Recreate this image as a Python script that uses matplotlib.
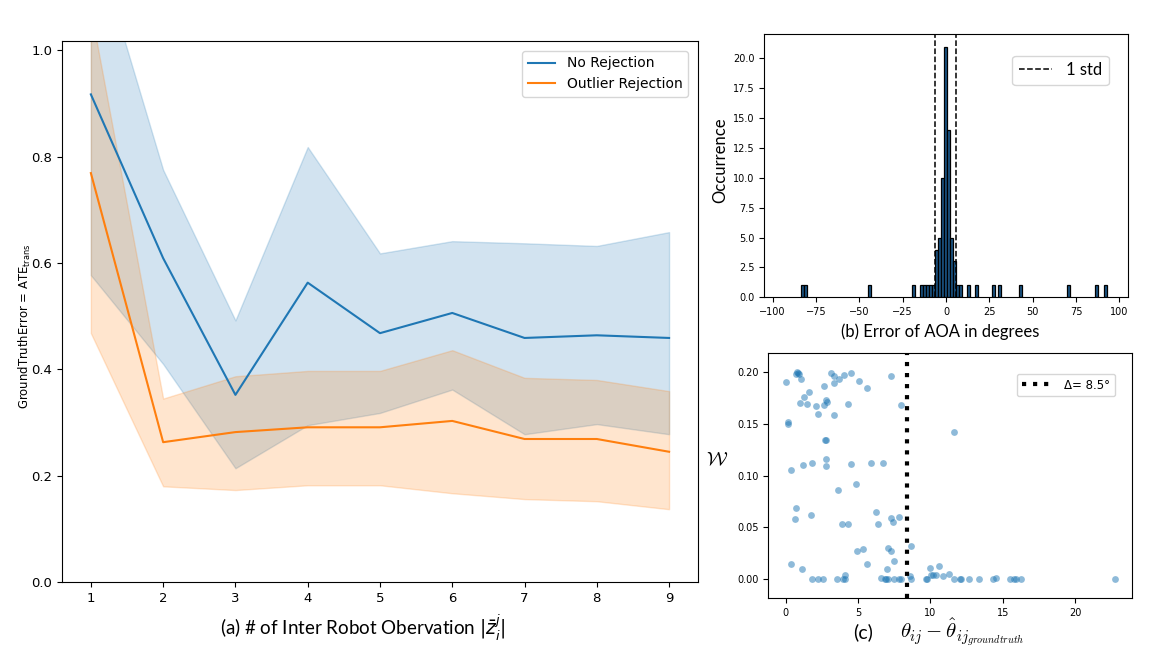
import matplotlib.pyplot as plt

# (a) trajectory error vs number of inter robot observations
n_obs = [1, 2, 3, 4, 5, 6, 7, 8, 9]
no_rej_mean = [0.917, 0.609, 0.352, 0.563, 0.468, 0.506, 0.459, 0.464, 0.459]
no_rej_low = [0.577, 0.410, 0.214, 0.295, 0.318, 0.362, 0.278, 0.297, 0.278]
no_rej_high = [1.230, 0.775, 0.492, 0.818, 0.618, 0.641, 0.637, 0.632, 0.658]
rej_mean = [0.769, 0.263, 0.282, 0.291, 0.291, 0.303, 0.269, 0.269, 0.245]
rej_low = [0.468, 0.180, 0.173, 0.182, 0.182, 0.167, 0.156, 0.152, 0.137]
rej_high = [1.075, 0.345, 0.387, 0.397, 0.397, 0.436, 0.384, 0.380, 0.359]

# (b) histogram of AOA error (bin centres in degrees, counts)
bin_centers = [-82.9, -80.8, -44.4, -18.6, -14.4, -12.65, -10.9, -9.15, -7.4,
               -5.65, -3.9, -2.15, -0.4, 1.35, 3.1, 4.85, 6.6, 8.35,
               12.7, 17.5, 27.5, 30.8, 42.7, 70.6, 86.6, 91.8]
bin_counts = [1, 1, 1, 1, 1, 1, 1, 1, 1,
              4, 5, 10, 21, 14, 5, 3, 1, 1,
              1, 1, 1, 1, 1, 1, 1, 1]
bin_width = 1.75
std_lines = [-6.3, 5.8]

# (c) weight vs angle error
err_x = [0.0, 0.76, 0.83, 0.69, 0.92, 1.06, 0.99, 1.27, 1.61, 1.50,
         0.14, 0.18, 2.12, 2.21, 2.67, 2.65, 2.76, 2.83, 3.11, 3.34,
         3.32, 3.71, 4.06, 4.49, 3.36, 4.29, 5.09, 5.65, 7.28, 7.95,
         2.72, 2.79, 2.76, 2.81, 0.37, 1.20, 1.80, 4.54, 5.90, 6.71,
         4.88, 3.62, 0.69, 0.65, 1.77, 3.87, 4.33, 6.24, 6.36, 7.30,
         7.40, 7.86, 4.93, 5.35, 7.10, 7.28, 7.51, 7.00, 0.39, 1.15,
         5.60, 4.08, 8.66, 8.62, 9.98, 10.58, 11.29, 11.61, 10.07, 10.21,
         10.37, 10.85, 6.59, 14.54,
         1.82, 2.24, 2.60, 3.55, 3.94, 4.12, 6.87, 6.94, 7.05, 7.47,
         7.81, 7.97, 8.64, 9.72, 9.79, 11.61, 12.07, 12.14, 12.63, 13.34,
         14.29, 15.46, 15.76, 15.92, 16.24, 22.72]
weight = [0.191, 0.200, 0.199, 0.198, 0.198, 0.194, 0.170, 0.176, 0.181, 0.169,
          0.150, 0.152, 0.167, 0.160, 0.187, 0.168, 0.173, 0.171, 0.199, 0.196,
          0.190, 0.194, 0.197, 0.199, 0.159, 0.169, 0.192, 0.185, 0.196, 0.168,
          0.134, 0.134, 0.116, 0.109, 0.105, 0.110, 0.112, 0.111, 0.112, 0.112,
          0.092, 0.086, 0.069, 0.058, 0.062, 0.053, 0.053, 0.065, 0.053, 0.059,
          0.055, 0.060, 0.027, 0.029, 0.030, 0.027, 0.017, 0.010, 0.014, 0.010,
          0.014, 0.004, 0.032, 0.003, 0.011, 0.013, 0.005, 0.142, 0.004, 0.004,
          0.004, 0.003, 0.001, 0.001,
          0, 0, 0, 0, 0, 0, 0, 0, 0, 0,
          0, 0, 0, 0, 0, 0, 0, 0, 0, 0,
          0, 0, 0, 0, 0, 0]
threshold = 8.4

label_font = ['Lato', 'DejaVu Sans']

fig = plt.figure(figsize=(11.56, 6.54), dpi=100)

# ---- (a)
ax1 = fig.add_axes([0.0536, 0.110, 0.5502, 0.827])
ax1.plot(n_obs, no_rej_mean, color='tab:blue', lw=1.5, label='No Rejection')
ax1.fill_between(n_obs, no_rej_low, no_rej_high, color='tab:blue', alpha=0.2)
ax1.plot(n_obs, rej_mean, color='tab:orange', lw=1.5, label='Outlier Rejection')
ax1.fill_between(n_obs, rej_low, rej_high, color='tab:orange', alpha=0.2)
ax1.set_xlim(0.6, 9.4)
ax1.set_ylim(0, 1.017)
ax1.set_xticks(n_obs)
ax1.set_yticks([0.0, 0.2, 0.4, 0.6, 0.8, 1.0])
ax1.tick_params(labelsize=9.5)
ax1.legend(loc='upper right', fontsize=10, bbox_to_anchor=(0.995, 0.995))
fig.text(25 / 1156, 1 - 326 / 654, r'GroundTruthError = ATE$_{\mathrm{trans}}$',
         rotation=90, ha='center', va='center', fontsize=8.4)
fig.text(363 / 1156, 1 - 628 / 654,
         r'(a) # of Inter Robot Obervation $|\bar{z}_i^j|$',
         ha='center', va='center', fontsize=13.5, family=label_font)

# ---- (b)
ax2 = fig.add_axes([0.6612, 0.5454, 0.3144, 0.4026])
ax2.bar(bin_centers, bin_counts, width=bin_width, color='#1b5585',
        edgecolor='black', linewidth=0.9)
for i, s in enumerate(std_lines):
    ax2.axvline(s, color='black', ls='--', lw=1.1, label='1 std' if i == 0 else None)
ax2.set_xlim(-104.8, 104.8)
ax2.set_ylim(0, 22.05)
ax2.set_xticks([-100, -75, -50, -25, 0, 25, 50, 75, 100])
ax2.set_yticks([0, 2.5, 5, 7.5, 10, 12.5, 15, 17.5, 20])
ax2.set_yticklabels(['0.0', '2.5', '5.0', '7.5', '10.0', '12.5', '15.0', '17.5', '20.0'])
ax2.tick_params(labelsize=7)
ax2.legend(loc='upper right', prop={'family': label_font, 'size': 12},
           bbox_to_anchor=(0.97, 0.95))
fig.text(720 / 1156, 1 - 160 / 654, 'Occurrence', rotation=90,
         ha='center', va='center', fontsize=12, family=label_font)
fig.text(940 / 1156, 1 - 332 / 654, '(b) Error of AOA in degrees',
         ha='center', va='center', fontsize=12, family=label_font)

# ---- (c)
ax3 = fig.add_axes([0.6646, 0.0852, 0.3144, 0.3746])
ax3.scatter(err_x, weight, s=24, color='tab:blue', alpha=0.5, lw=0)
ax3.axvline(threshold, color='black', ls=':', lw=3, label='Δ= 8.5°')
ax3.set_xlim(-1.2, 23.9)
ax3.set_ylim(-0.0187, 0.2184)
ax3.set_xticks([0, 5, 10, 15, 20])
ax3.set_yticks([0.0, 0.05, 0.10, 0.15, 0.20])
ax3.set_yticklabels(['0.00', '0.05', '0.10', '0.15', '0.20'])
ax3.tick_params(labelsize=7)
ax3.legend(loc='upper right', fontsize=8.5, handlelength=2.8,
           bbox_to_anchor=(0.97, 0.94))
fig.text(717.5 / 1156, 1 - 461 / 654, r'$\mathcal{W}$', ha='center', va='center',
         fontsize=14, math_fontfamily='cm')
fig.text(863 / 1156, 1 - 632 / 654, '(c)', ha='center', va='center',
         fontsize=14, family=label_font)
fig.text(962 / 1156, 1 - 638 / 654,
         r'$\theta_{ij} - \hat{\theta}_{ij_{groundtruth}}$',
         ha='center', va='baseline', fontsize=15, math_fontfamily='cm')

fig.savefig('out.png', dpi=100)
